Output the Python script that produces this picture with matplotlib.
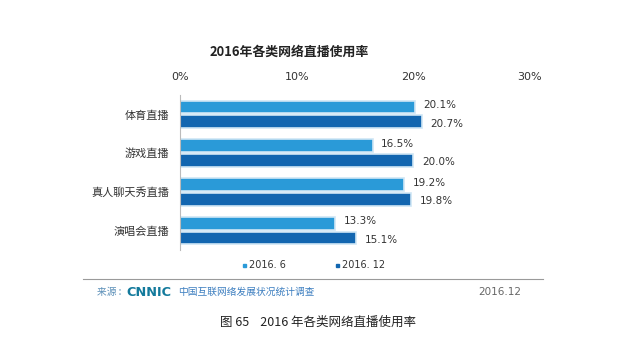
import matplotlib
matplotlib.use("Agg")
import matplotlib.pyplot as plt
from matplotlib.patches import Rectangle
from matplotlib.lines import Line2D

plt.rcParams['font.family'] = ['Noto Sans CJK SC', 'DejaVu Sans']

categories = ["体育直播", "游戏直播", "真人聊天秀直播", "演唱会直播"]
series_names = ["2016. 6", "2016. 12"]
values_jun = [20.1, 16.5, 19.2, 13.3]
values_dec = [20.7, 20.0, 19.8, 15.1]
xticks = [0, 10, 20, 30]
xtick_labels = ["0%", "10%", "20%", "30%"]

c_light = "#2a9ad8"
c_dark = "#1266b0"
edge_col = "#cfe6f5"

fig = plt.figure(figsize=(6.4, 3.6), dpi=100)
fig.patch.set_facecolor("white")

ax = fig.add_axes([180/640, 1-250/360, 350/640, 155/360])
ypos = list(range(len(categories)))
h = 0.33
off = 0.19
ax.barh([y - off for y in ypos], values_jun, height=h, color=c_light,
        edgecolor=edge_col, linewidth=1.2)
ax.barh([y + off for y in ypos], values_dec, height=h, color=c_dark,
        edgecolor=edge_col, linewidth=1.2)
for y, v in zip(ypos, values_jun):
    ax.text(v + 0.75, y - off - 0.05, f"{v:.1f}%", va="center", ha="left",
            fontsize=7.5, color="#333333", family="DejaVu Sans")
for y, v in zip(ypos, values_dec):
    ax.text(v + 0.75, y + off + 0.05, f"{v:.1f}%", va="center", ha="left",
            fontsize=7.5, color="#333333", family="DejaVu Sans")

ax.set_xlim(0, 30)
ax.set_ylim(len(categories) - 0.5, -0.5)
ax.xaxis.tick_top()
ax.set_xticks(xticks)
ax.set_xticklabels(xtick_labels, fontsize=8, color="#333333", family="DejaVu Sans")
ax.tick_params(axis="x", length=0, pad=9)
ax.set_yticks(ypos)
ax.set_yticklabels(categories, fontsize=8, color="#333333")
ax.tick_params(axis="y", length=0, pad=8)
for s in ["top", "right", "bottom"]:
    ax.spines[s].set_visible(False)
ax.spines["left"].set_color("#bbbbbb")
ax.spines["left"].set_linewidth(0.8)

# Title
fig.text(289/640, 1-52/360, "2016年各类网络直播使用率", ha="center", va="center",
         fontsize=9.3, fontweight="bold", color="#222222")

# Legend
fig.patches.append(Rectangle((243/640, 1-267/360), 3/640, 3/360, transform=fig.transFigure,
                             color=c_light))
fig.text(249/640, 1-265/360, series_names[0], ha="left", va="center", fontsize=7,
         color="#333333", family="DejaVu Sans")
fig.patches.append(Rectangle((336/640, 1-267/360), 3/640, 3/360, transform=fig.transFigure,
                             color=c_dark))
fig.text(342/640, 1-265/360, series_names[1], ha="left", va="center", fontsize=7,
         color="#333333", family="DejaVu Sans")

# Separator line
fig.add_artist(Line2D([83/640, 543/640], [1-279/360, 1-279/360], transform=fig.transFigure,
                      color="#9a9a9a", linewidth=0.8))

# Source line
fig.text(97/640, 1-292/360, "来源 :", ha="left", va="center", fontsize=7, color="#5b8fb8")
fig.text(126/640, 1-292/360, "CNNIC", ha="left", va="center", fontsize=9.3,
         fontweight="bold", color="#137a9c", family="DejaVu Sans")
fig.text(178/640, 1-292/360, "中国互联网络发展状况统计调查", ha="left", va="center",
         fontsize=7, color="#3d7fc0")
fig.text(521/640, 1-292/360, "2016.12", ha="right", va="center", fontsize=7.5,
         color="#666666", family="DejaVu Sans")

# Caption
fig.text(318/640, 1-322/360, "图 65    2016 年各类网络直播使用率", ha="center", va="center",
         fontsize=9, color="#222222")

fig.savefig("out.png", dpi=100, facecolor="white")
